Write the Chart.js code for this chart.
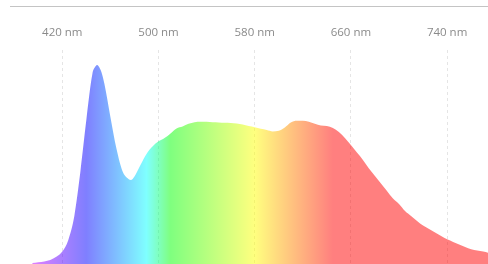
<!DOCTYPE html>
<html>
<head>
<meta charset="utf-8">
<script src="https://cdn.jsdelivr.net/npm/chart.js@4/dist/chart.umd.min.js"></script>
<style>
  html, body { margin: 0; padding: 0; background: #fff; }
  #wrap { position: relative; width: 488px; height: 264px; }
  #topline { position: absolute; left: 10px; right: 0; top: 6px; border-top: 1px solid #c4c4c4; }
</style>
</head>
<body>
<div id="wrap">
  <div id="topline"></div>
  <canvas id="spectrum" width="488" height="264"></canvas>
</div>
<script>
// wavelengths (nm) and relative intensity (%)
const wavelengths = [395, 400, 405, 410, 415, 420, 425, 430, 435, 440, 445, 447.5, 449, 450, 452.5, 455,
  460, 465, 470, 475, 477, 480, 485, 490, 495, 500, 505, 510, 515, 520, 525, 530, 535, 540, 545, 550,
  555, 560, 565, 570, 575, 580, 585, 590, 595, 600, 605, 610, 615, 620, 625, 630, 635, 640, 645, 650,
  655, 660, 665, 670, 675, 680, 685, 690, 695, 700, 705, 710, 715, 720, 725, 730, 735, 740, 745, 750,
  755, 760, 765, 770, 775];
const intensity = [0.5, 0.9, 1.3, 2.0, 3.6, 6.3, 12.1, 24.1, 46.2, 72.4, 95.5, 99.2, 100, 99.5, 96.5, 90.5,
  73.9, 58.0, 46.7, 42.7, 42.2, 44.0, 49.7, 55.3, 59.0, 61.6, 63.3, 65.6, 68.1, 69.1, 70.4, 71.2, 71.4, 71.4, 71.2, 71.1,
  70.9, 70.8, 70.6, 70.1, 69.3, 68.7, 67.9, 67.3, 66.6, 66.9, 68.6, 71.1, 71.9, 71.9, 71.4, 70.4, 69.6, 69.3, 68.3, 66.3,
  63.3, 59.8, 56.0, 52.3, 48.0, 44.2, 40.5, 36.7, 32.9, 30.2, 26.6, 24.1, 21.6, 19.3, 17.6, 15.8, 14.1, 12.4, 11.1, 9.8,
  8.5, 7.4, 6.8, 6.3, 5.5];
const tickValues = [420, 500, 580, 660, 740];

// spectrum colour stops for the fill
const stopNm = [380, 440, 490, 510, 580, 645, 780];
const stopColors = ['rgba(255,0,255,0.5)', 'rgba(0,0,255,0.5)', 'rgba(0,255,255,0.5)', 'rgba(0,255,0,0.5)',
  'rgba(255,255,0,0.5)', 'rgba(255,0,0,0.5)', 'rgba(255,0,0,0.5)'];

function spectrumFill(context) {
  const chart = context.chart;
  const area = chart.chartArea;
  if (!area) return 'rgba(0,0,0,0)';
  const x = chart.scales.x;
  const x0 = x.getPixelForValue(stopNm[0]);
  const x1 = x.getPixelForValue(stopNm[stopNm.length - 1]);
  const g = chart.ctx.createLinearGradient(x0, 0, x1, 0);
  stopNm.forEach((nm, i) => {
    g.addColorStop((nm - stopNm[0]) / (stopNm[stopNm.length - 1] - stopNm[0]), stopColors[i]);
  });
  return g;
}

const ctx = document.getElementById('spectrum').getContext('2d');
new Chart(ctx, {
  type: 'line',
  data: {
    datasets: [{
      data: wavelengths.map((nm, i) => ({ x: nm, y: intensity[i] })),
      fill: 'origin',
      backgroundColor: spectrumFill,
      borderWidth: 0,
      pointRadius: 0,
      cubicInterpolationMode: 'monotone'
    }]
  },
  options: {
    responsive: false,
    animation: false,
    layout: { padding: { left: 10, right: 0, top: 0, bottom: 0 } },
    plugins: { legend: { display: false }, tooltip: { enabled: false } },
    scales: {
      x: {
        type: 'linear',
        position: 'top',
        min: 376.5,
        max: 774,
        afterBuildTicks: (scale) => { scale.ticks = tickValues.map(v => ({ value: v })); },
        afterFit: (scale) => { scale.height = 50; },
        border: { display: false, dash: [3, 3] },
        grid: { color: 'rgba(0,0,0,0.1)', drawTicks: false },
        ticks: {
          padding: 10,
          color: '#8a8a8a',
          font: { family: 'Open Sans', size: 11.5 },
          maxRotation: 0,
          callback: (v) => v + ' nm'
        }
      },
      y: { display: false, min: 0, max: 107.5 }
    }
  }
});
</script>
</body>
</html>
